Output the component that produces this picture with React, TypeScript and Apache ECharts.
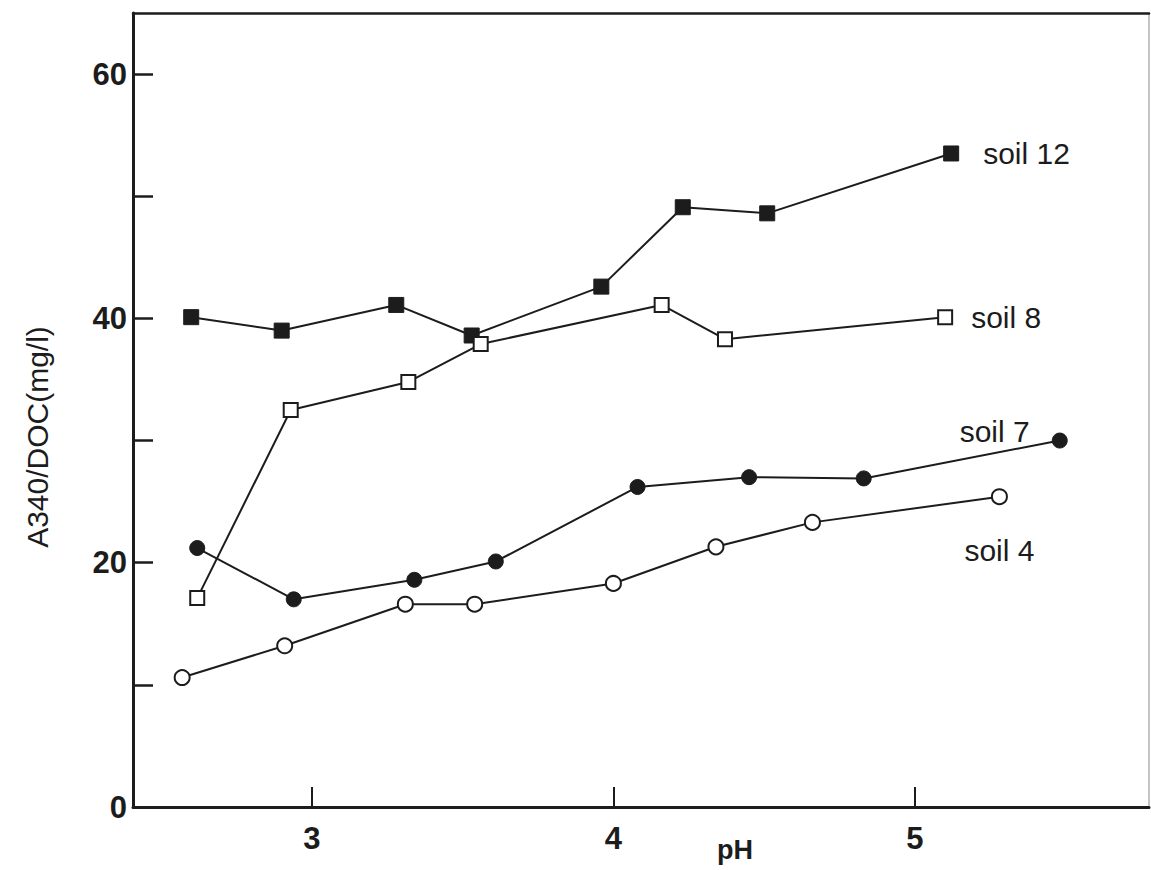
import React, { useEffect, useRef } from "react";
import * as echarts from "echarts";

// pH values (x) and A340/DOC values (y) per soil
const ph12 = [2.6, 2.9, 3.28, 3.53, 3.96, 4.23, 4.51, 5.12];
const soil12 = [40.1, 39.0, 41.1, 38.6, 42.6, 49.1, 48.6, 53.5];
const ph8 = [2.62, 2.93, 3.32, 3.56, 4.16, 4.37, 5.1];
const soil8 = [17.1, 32.5, 34.8, 37.9, 41.1, 38.3, 40.1];
const ph7 = [2.62, 2.94, 3.34, 3.61, 4.08, 4.45, 4.83, 5.48];
const soil7 = [21.2, 17.0, 18.6, 20.1, 26.2, 27.0, 26.9, 30.0];
const ph4 = [2.57, 2.91, 3.31, 3.54, 4.0, 4.34, 4.66, 5.28];
const soil4 = [10.6, 13.2, 16.6, 16.6, 18.3, 21.3, 23.3, 25.4];

const xTicks = [3, 4, 5];
const yTicks = [0, 10, 20, 30, 40, 50, 60];
const yLabels = [0, 20, 40, 60];
const X_MIN = 2.407;
const X_MAX = 5.776;
const Y_MIN = 0;
const Y_MAX = 65;

const INK = "#1c1c1c";
const FONT = "'Liberation Sans', Arial, Helvetica, sans-serif";

function buildData(xs: number[], ys: number[], label: any) {
  return xs.map((x, i) =>
    i === xs.length - 1 ? { value: [x, ys[i]], label } : { value: [x, ys[i]] }
  );
}

const labelText = (text: string, extra: any) => ({
  show: true,
  formatter: text,
  color: INK,
  fontFamily: FONT,
  fontSize: 30,
  ...extra,
});

export default function App() {
  const ref = useRef<HTMLDivElement>(null);
  useEffect(() => {
    if (!ref.current) return;
    const chart = echarts.init(ref.current, undefined, { renderer: "svg" });
    const filled = { color: INK, borderColor: INK, borderWidth: 1 };
    const open = { color: "#ffffff", borderColor: INK, borderWidth: 2 };
    const line = { color: INK, width: 2 };
    chart.setOption({
      animation: false,
      backgroundColor: "#ffffff",
      grid: { left: 133, right: 2, top: 13, bottom: 63 },
      xAxis: [
        {
          type: "value",
          min: X_MIN,
          max: X_MAX,
          axisLine: { show: true, onZero: false, lineStyle: { color: INK, width: 3 } },
          axisTick: {
            show: true,
            inside: true,
            length: 20,
            customValues: xTicks,
            lineStyle: { color: INK, width: 2 },
          },
          axisLabel: {
            customValues: xTicks,
            color: INK,
            fontFamily: FONT,
            fontSize: 31,
            fontWeight: "bold",
            margin: 16,
          },
          splitLine: { show: false },
        },
        {
          type: "value",
          position: "top",
          min: X_MIN,
          max: X_MAX,
          axisLine: { show: true, onZero: false, lineStyle: { color: INK, width: 2.5 } },
          axisTick: { show: false },
          axisLabel: { show: false },
          splitLine: { show: false },
        },
      ],
      yAxis: [
        {
          type: "value",
          min: Y_MIN,
          max: Y_MAX,
          axisLine: { show: true, onZero: false, lineStyle: { color: INK, width: 3 } },
          axisTick: {
            show: true,
            inside: true,
            length: 20,
            customValues: yTicks,
            lineStyle: { color: INK, width: 2.5 },
          },
          axisLabel: {
            customValues: yLabels,
            color: INK,
            fontFamily: FONT,
            fontSize: 31,
            fontWeight: "bold",
            margin: 6,
          },
          splitLine: { show: false },
        },
        {
          type: "value",
          position: "right",
          min: Y_MIN,
          max: Y_MAX,
          axisLine: { show: true, onZero: false, lineStyle: { color: "#b0b0b0", width: 1.5 } },
          axisTick: { show: false },
          axisLabel: { show: false },
          splitLine: { show: false },
        },
      ],
      graphic: [
        {
          type: "text",
          x: 37,
          y: 437,
          rotation: Math.PI / 2,
          style: {
            text: "A340/DOC(mg/l)",
            fill: INK,
            font: `30px ${FONT}`,
            textAlign: "center",
            textVerticalAlign: "middle",
          },
        },
        {
          type: "text",
          x: 735,
          y: 850,
          style: {
            text: "pH",
            fill: INK,
            font: `bold 27px ${FONT}`,
            textAlign: "center",
            textVerticalAlign: "middle",
          },
        },
      ],
      series: [
        {
          name: "soil 12",
          type: "line",
          symbol: "rect",
          symbolSize: 15,
          lineStyle: line,
          itemStyle: filled,
          data: buildData(ph12, soil12, labelText("soil 12", { position: "right", distance: 24 })),
        },
        {
          name: "soil 8",
          type: "line",
          symbol: "rect",
          symbolSize: 14,
          lineStyle: line,
          itemStyle: open,
          data: buildData(ph8, soil8, labelText("soil 8", { position: "right", distance: 18 })),
        },
        {
          name: "soil 7",
          type: "line",
          symbol: "circle",
          symbolSize: 15,
          lineStyle: line,
          itemStyle: filled,
          data: buildData(
            ph7,
            soil7,
            labelText("soil 7", { position: "left", distance: 22, offset: [0, -9] })
          ),
        },
        {
          name: "soil 4",
          type: "line",
          symbol: "circle",
          symbolSize: 15,
          lineStyle: line,
          itemStyle: open,
          data: buildData(
            ph4,
            soil4,
            labelText("soil 4", { position: "bottom", distance: 30 })
          ),
        },
      ],
    });
    return () => chart.dispose();
  }, []);
  return (
    <div
      ref={ref}
      style={{ position: "fixed", left: 0, top: 0, width: 1151, height: 870, background: "#fff" }}
    />
  );
}
